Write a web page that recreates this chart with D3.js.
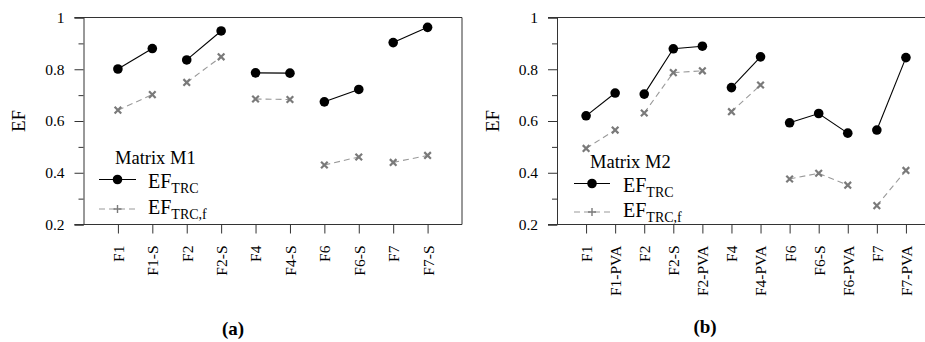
<!DOCTYPE html>
<html>
<head>
<meta charset="utf-8">
<script src="https://cdn.jsdelivr.net/npm/d3@7"></script>
<style>
  html, body { margin: 0; padding: 0; background: #fff; }
  svg { display: block; }
  svg text { font-family: "Liberation Serif", "Times New Roman", serif !important; fill: #000; }
</style>
</head>
<body>
<svg id="chart" width="925" height="342" font-family="Liberation Serif"></svg>
<script>
// ---- data ----
const categoriesA = ["F1", "F1-S", "F2", "F2-S", "F4", "F4-S", "F6", "F6-S", "F7", "F7-S"];
const efTrcA      = [0.801, 0.880, 0.836, 0.948, 0.786, 0.785, 0.674, 0.722, 0.903, 0.962];
const efTrcFA     = [0.642, 0.702, 0.749, 0.848, 0.685, 0.683, 0.430, 0.461, 0.440, 0.467];
const groupsA     = [["F1", "F1-S"], ["F2", "F2-S"], ["F4", "F4-S"], ["F6", "F6-S"], ["F7", "F7-S"]];

const categoriesB = ["F1", "F1-PVA", "F2", "F2-S", "F2-PVA", "F4", "F4-PVA", "F6", "F6-S", "F6-PVA", "F7", "F7-PVA"];
const efTrcB      = [0.620, 0.708, 0.704, 0.879, 0.889, 0.729, 0.848, 0.593, 0.629, 0.553, 0.565, 0.845];
const efTrcFB     = [0.494, 0.565, 0.631, 0.787, 0.794, 0.636, 0.739, 0.376, 0.398, 0.352, 0.273, 0.409];
const groupsB     = [["F1", "F1-PVA"], ["F2", "F2-S", "F2-PVA"], ["F4", "F4-PVA"], ["F6", "F6-S", "F6-PVA"], ["F7", "F7-PVA"]];

const yTicks      = [0.2, 0.4, 0.6, 0.8, 1];
const yMinorTicks = [0.3, 0.5, 0.7, 0.9];
const yDomain     = [0.2, 1];
const yLabel      = "EF";
const legendTitles = ["Matrix M1", "Matrix M2"];
const captions    = ["(a)", "(b)"];

// ---- drawing ----
const svg = d3.select("#chart");
const FONT = "Liberation Serif";
const axisColor = "#333";
const greyLine = "#9a9a9a";
const greyMark = "#7a7a7a";

function drawPanel(cfg) {
  const g = svg.append("g").attr("font-family", FONT);
  const x = d3.scalePoint().domain(cfg.categories).range([cfg.left, cfg.right]).padding(1);
  const y = d3.scaleLinear().domain(yDomain).range([cfg.bottom, cfg.top]);

  // frame (top and right)
  g.append("line").attr("x1", cfg.left - 9).attr("x2", cfg.right).attr("y1", cfg.top).attr("y2", cfg.top)
    .attr("stroke", axisColor).attr("stroke-width", 1);
  g.append("line").attr("x1", cfg.right).attr("x2", cfg.right).attr("y1", cfg.top).attr("y2", cfg.bottom)
    .attr("stroke", axisColor).attr("stroke-width", 1);

  // y axis
  const yAxis = g.append("g").attr("transform", `translate(${cfg.left},0)`)
    .call(d3.axisLeft(y).tickValues(yTicks).tickSize(9).tickPadding(10)
      .tickFormat(d => d === 1 ? "1" : d3.format(".1f")(d)))
    .attr("font-family", FONT).attr("font-size", 15.5);
  yAxis.select(".domain").attr("stroke", axisColor);
  yAxis.selectAll(".tick line").attr("stroke", axisColor);
  yAxis.selectAll(".tick text").attr("fill", "#000");
  const yMinor = g.append("g").attr("transform", `translate(${cfg.left},0)`)
    .call(d3.axisLeft(y).tickValues(yMinorTicks).tickSize(5).tickFormat(""));
  yMinor.select(".domain").remove();
  yMinor.selectAll(".tick line").attr("stroke", axisColor);

  // x axis
  const xAxisG = g.append("g").attr("transform", `translate(0,${cfg.bottom})`)
    .call(d3.axisBottom(x).tickSize(9).tickFormat(""))
    .attr("font-family", FONT).attr("font-size", 15.5);
  xAxisG.select(".domain").attr("d", `M${cfg.left - 9},0H${cfg.right}`).attr("stroke", axisColor);
  xAxisG.selectAll(".tick line").attr("stroke", axisColor);
  xAxisG.selectAll(".tick").append("text")
    .attr("transform", "rotate(-90)")
    .attr("x", -21)
    .attr("y", 0)
    .attr("dy", "0.35em")
    .attr("text-anchor", "end")
    .attr("fill", "#000")
    .text(d => d);

  // y label
  g.append("text")
    .attr("transform", `translate(${cfg.yLabelX},${(cfg.top + cfg.bottom) / 2}) rotate(-90)`)
    .attr("text-anchor", "middle").attr("dy", "0.35em")
    .attr("font-size", 19).text(yLabel);

  const valTrc = new Map(cfg.categories.map((c, i) => [c, cfg.trc[i]]));
  const valF = new Map(cfg.categories.map((c, i) => [c, cfg.trcf[i]]));
  const line = d3.line().x(d => x(d[0])).y(d => y(d[1]));

  // dashed series
  cfg.groups.forEach(grp => {
    g.append("path").datum(grp.map(c => [c, valF.get(c)]))
      .attr("d", line).attr("fill", "none").attr("stroke", greyLine)
      .attr("stroke-width", 1.1).attr("stroke-dasharray", "6,4");
  });
  const crossSize = 3.3;
  cfg.categories.forEach((c, i) => {
    const cx = x(c), cy = y(cfg.trcf[i]);
    g.append("path")
      .attr("d", `M${cx - crossSize},${cy - crossSize}L${cx + crossSize},${cy + crossSize}M${cx - crossSize},${cy + crossSize}L${cx + crossSize},${cy - crossSize}`)
      .attr("stroke", greyMark).attr("stroke-width", 2.2).attr("fill", "none");
  });

  // solid series
  cfg.groups.forEach(grp => {
    g.append("path").datum(grp.map(c => [c, valTrc.get(c)]))
      .attr("d", line).attr("fill", "none").attr("stroke", "#000").attr("stroke-width", 1.1);
  });
  g.selectAll(null).data(cfg.categories).enter().append("circle")
    .attr("cx", d => x(d)).attr("cy", (d, i) => y(cfg.trc[i])).attr("r", 4.8).attr("fill", "#000");

  // legend
  const L = cfg.legend;
  g.append("text").attr("x", L.titleX).attr("y", L.titleY).attr("font-size", 18.5).text(cfg.legendTitle);
  g.append("line").attr("x1", L.lineX1).attr("x2", L.lineX2).attr("y1", L.row1Y).attr("y2", L.row1Y)
    .attr("stroke", "#000").attr("stroke-width", 1.1);
  g.append("circle").attr("cx", (L.lineX1 + L.lineX2) / 2).attr("cy", L.row1Y).attr("r", 4.8).attr("fill", "#000");
  const t1 = g.append("text").attr("x", L.textX).attr("y", L.row1Y + 8).attr("font-size", 20);
  t1.append("tspan").text("EF");
  t1.append("tspan").attr("font-size", 14).attr("dy", 5).text("TRC");

  g.append("line").attr("x1", L.lineX1).attr("x2", L.lineX2).attr("y1", L.row2Y).attr("y2", L.row2Y)
    .attr("stroke", greyLine).attr("stroke-width", 1.1).attr("stroke-dasharray", "6,4");
  const mx = (L.lineX1 + L.lineX2) / 2;
  g.append("path").attr("d", `M${mx - 4},${L.row2Y}H${mx + 4}M${mx},${L.row2Y - 4}V${L.row2Y + 4}`)
    .attr("stroke", greyMark).attr("stroke-width", 1.4);
  const t2 = g.append("text").attr("x", L.textX).attr("y", L.row2Y + 5).attr("font-size", 20);
  t2.append("tspan").text("EF");
  t2.append("tspan").attr("font-size", 14).attr("dy", 5).text("TRC,f");

  // caption
  g.append("text").attr("x", cfg.captionX).attr("y", cfg.captionY).attr("text-anchor", "middle")
    .attr("font-size", 19).attr("font-weight", "bold").text(cfg.caption);
}

drawPanel({
  categories: categoriesA, trc: efTrcA, trcf: efTrcFA, groups: groupsA,
  left: 83.5, right: 462, top: 17.5, bottom: 224.5, yLabelX: 18,
  legendTitle: legendTitles[0], caption: captions[0], captionX: 233, captionY: 335,
  legend: { titleX: 115, titleY: 164, lineX1: 99, lineX2: 136, row1Y: 179.5, row2Y: 209, textX: 148 }
});

drawPanel({
  categories: categoriesB, trc: efTrcB, trcf: efTrcFB, groups: groupsB,
  left: 557, right: 935, top: 17.5, bottom: 224.5, yLabelX: 492,
  legendTitle: legendTitles[1], caption: captions[1], captionX: 705, captionY: 333,
  legend: { titleX: 590, titleY: 168, lineX1: 574, lineX2: 610, row1Y: 183.5, row2Y: 212, textX: 623 }
});
</script>
</body>
</html>
